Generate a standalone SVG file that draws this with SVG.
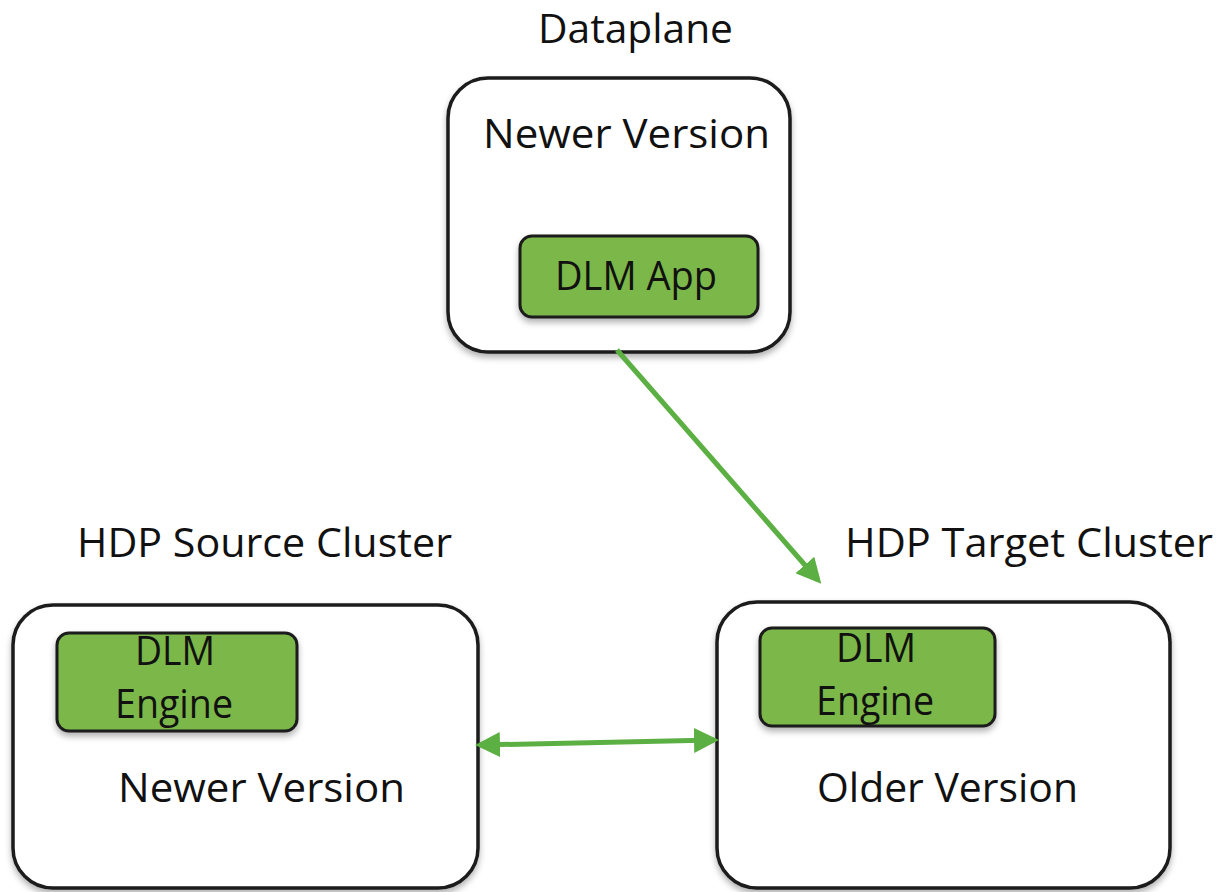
<svg xmlns="http://www.w3.org/2000/svg" width="1232" height="892" viewBox="0 0 1232 892">
<style>
.box{fill:#ffffff;stroke:#1a1a1a;stroke-width:3.5;filter:url(#sh)}
.gbox{fill:#7cb84a;stroke:#1a1a1a;stroke-width:3;filter:url(#sh)}
.t{font-family:"Open Sans","Liberation Sans",sans-serif;fill:#111111;font-size:40px}
.conn{stroke:#5cb043;stroke-width:5;fill:none}
</style>
<defs>
<filter id="sh" x="-10%" y="-10%" width="120%" height="130%">
<feDropShadow dx="0" dy="4" stdDeviation="3" flood-color="#000" flood-opacity="0.3"/>
</filter>
<marker id="ah" markerWidth="5" markerHeight="5" refX="4" refY="2.5" orient="auto" markerUnits="strokeWidth">
<path d="M0,0 L5,2.5 L0,5 Z" fill="#5cb043"/>
</marker>
<marker id="ahs" markerWidth="5" markerHeight="5" refX="1" refY="2.5" orient="auto" markerUnits="strokeWidth">
<path d="M5,0 L0,2.5 L5,5 Z" fill="#5cb043"/>
</marker>
</defs>

<text class="t" x="538" y="43" textLength="195" lengthAdjust="spacingAndGlyphs">Dataplane</text>
<text class="t" x="77" y="557" textLength="375" lengthAdjust="spacingAndGlyphs">HDP Source Cluster</text>
<text class="t" x="845" y="557" textLength="368" lengthAdjust="spacingAndGlyphs">HDP Target Cluster</text>

<g id="dataplane">
<rect class="box" x="448" y="78" width="342" height="274" rx="40"/>
<text class="t" x="483" y="148" textLength="287" lengthAdjust="spacingAndGlyphs">Newer Version</text>
<g id="dlm-app">
<rect class="gbox" x="520" y="236" width="238" height="81" rx="12"/>
<text class="t" x="555" y="290" textLength="162" lengthAdjust="spacingAndGlyphs">DLM App</text>
</g>
</g>

<g id="source-cluster">
<rect class="box" x="13" y="605" width="465" height="283" rx="40"/>
<g id="source-engine">
<rect class="gbox" x="57" y="633" width="240" height="98" rx="12"/>
<text class="t" x="135" y="665" textLength="80" lengthAdjust="spacingAndGlyphs">DLM</text>
<text class="t" x="115" y="718" textLength="118" lengthAdjust="spacingAndGlyphs">Engine</text>
</g>
<text class="t" x="118" y="802" textLength="287" lengthAdjust="spacingAndGlyphs">Newer Version</text>
</g>

<g id="target-cluster">
<rect class="box" x="717" y="602" width="453" height="286" rx="40"/>
<g id="target-engine">
<rect class="gbox" x="760" y="628" width="235" height="98" rx="12"/>
<text class="t" x="836" y="662" textLength="80" lengthAdjust="spacingAndGlyphs">DLM</text>
<text class="t" x="816" y="715" textLength="118" lengthAdjust="spacingAndGlyphs">Engine</text>
</g>
<text class="t" x="817" y="802" textLength="261" lengthAdjust="spacingAndGlyphs">Older Version</text>
</g>

<g id="connectors">
<line class="conn" x1="617" y1="350" x2="818" y2="580" marker-end="url(#ah)"/>
<line class="conn" x1="480" y1="745" x2="714" y2="740" marker-start="url(#ahs)" marker-end="url(#ah)"/>
</g>
</svg>
